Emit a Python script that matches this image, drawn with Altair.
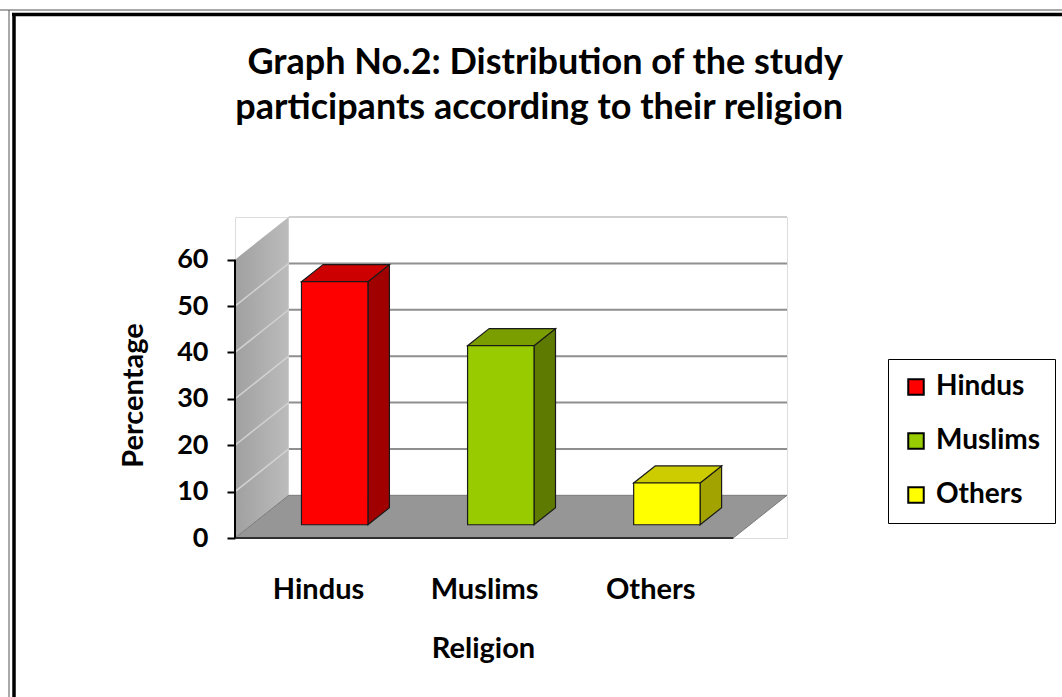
import altair as alt
import pandas as pd

# ---- data -------------------------------------------------------------
categories = ["Hindus", "Muslims", "Others"]
percentages = [52.4, 38.6, 9.0]
y_ticks = [0, 10, 20, 30, 40, 50, 60]

# ---- styling ----------------------------------------------------------
front_palette = ["#FF0000", "#99CC00", "#FFFF00"]
top_palette = ["#CC0000", "#7A9E00", "#CCCC00"]
side_palette = ["#A00000", "#5E7A00", "#A3A300"]
FONT = "Lato"
EDGE = "#1a1a1a"

# oblique depth of the floor (slot units along x, percentage units along y)
DX, DY = 0.3235, 9.2
F0, F1 = 0.31, 0.71      # front / back depth of each column
HALF = 0.2               # half width of a column, in slot units
YMAX = 60
n = len(categories)

xscale = alt.Scale(domain=[0, n + DX], nice=False, zero=False)
yscale = alt.Scale(domain=[0, YMAX + DY], nice=False, zero=False)

label_expr = "[" + ",".join(f"'{c}'" for c in categories) + "][floor(datum.value)]"
xaxis = alt.Axis(
    values=[i + 0.5 for i in range(n)], labelExpr=label_expr,
    domain=False, ticks=False, grid=False,
    labelPadding=37, labelFontSize=29, labelFont=FONT, labelFontWeight="bold",
    labelColor="black",
    title="Religion", titleFont=FONT, titleFontSize=29, titleFontWeight="bold",
    titleColor="black", titleX=248, titleY=110, titleAlign="center",
    titleBaseline="middle",
)
yaxis = alt.Axis(
    values=y_ticks, domain=False, grid=False,
    tickSize=8, tickWidth=2, tickColor="black",
    labelPadding=19, labelFontSize=27, labelFont=FONT, labelFontWeight="bold",
    labelColor="black",
    title="Percentage", titleFont=FONT, titleFontSize=29, titleFontWeight="bold",
    titleColor="black", titleAngle=270, titleX=-102, titleY=178,
    titleAlign="center", titleBaseline="middle",
)


def X(field):
    return alt.X(field, type="quantitative", scale=xscale, axis=xaxis)


def Y(field):
    return alt.Y(field, type="quantitative", scale=yscale, axis=yaxis)


# ---- geometry tables derived from the values -------------------------
front_rows, top_rows, side_rows = [], [], []
for i, (cat, v) in enumerate(zip(categories, percentages)):
    c = i + 0.5
    front_rows.append(dict(religion=cat,
                           x=c - HALF + F0 * DX, x2=c + HALF + F0 * DX,
                           y=F0 * DY, y2=F0 * DY + v))
    for f in (F0, F1):
        top_rows.append(dict(religion=cat, fill=top_palette[i], y=f * DY + v,
                             x=c - HALF + f * DX, x2=c + HALF + f * DX))
        side_rows.append(dict(religion=cat, fill=side_palette[i], x=c + HALF + f * DX,
                              y=f * DY, y2=f * DY + v))
front_df = pd.DataFrame(front_rows)
top_df = pd.DataFrame(top_rows)
side_df = pd.DataFrame(side_rows)

floor_df = pd.DataFrame([dict(y=0, x=0, x2=n), dict(y=DY, x=DX, x2=n + DX)])
wall_df = pd.DataFrame([dict(x=0, y=0, y2=YMAX), dict(x=DX, y=DY, y2=YMAX + DY)])
back_df = pd.DataFrame([dict(x=DX, x2=n + DX, y=DY, y2=YMAX + DY)])
grid_df = pd.DataFrame([dict(level=t, x=DX, x2=n + DX, y=t + DY) for t in y_ticks[1:]])
side_grid_df = pd.DataFrame(
    [dict(level=t, x=0, y=t) for t in y_ticks[1:-1]]
    + [dict(level=t, x=DX, y=t + DY) for t in y_ticks[1:-1]]
)
axis_line_df = pd.DataFrame([dict(x=0, y=0, y2=YMAX)])
front_edge_df = pd.DataFrame([dict(x=0, x2=n, y=0)])

# ---- walls and floor ---------------------------------------------------
back_wall = alt.Chart(back_df).mark_rect(fill="white").encode(
    x=X("x"), x2="x2", y=Y("y"), y2="y2")

back_grid = alt.Chart(grid_df).mark_rule(strokeWidth=2).encode(
    x=X("x"), x2="x2", y=Y("y"),
    color=alt.condition(alt.datum.level == YMAX, alt.value("#d0d0d0"), alt.value("#8f8f8f")),
)

side_wall = alt.Chart(wall_df).mark_area(
    orient="vertical",
    fill=alt.Gradient(gradient="linear", x1=0, x2=1, y1=0, y2=0,
                      stops=[alt.GradientStop(color="#a0a0a0", offset=0),
                             alt.GradientStop(color="#bcbcbc", offset=1)]),
).encode(x=X("x"), y=Y("y"), y2="y2")

side_grid = alt.Chart(side_grid_df).mark_line(color="#d2d2d2", strokeWidth=1.5).encode(
    x=X("x"), y=Y("y"), detail="level:N")

floor = alt.Chart(floor_df).mark_area(
    orient="horizontal", fill="#969696", stroke="#7a7a7a", strokeWidth=1
).encode(y=Y("y"), x=X("x"), x2="x2")

front_edge = alt.Chart(front_edge_df).mark_rule(color="#303030", strokeWidth=2).encode(
    x=X("x"), x2="x2", y=Y("y"))

axis_line = alt.Chart(axis_line_df).mark_rule(color="black", strokeWidth=2).encode(
    x=X("x"), y=Y("y"), y2="y2")

# ---- columns -------------------------------------------------------------
side_face = alt.Chart(side_df).mark_area(
    orient="vertical", stroke=EDGE, strokeWidth=1.2
).encode(x=X("x"), y=Y("y"), y2="y2",
         fill=alt.Fill("fill:N", scale=None), detail="religion:N")

top_face = alt.Chart(top_df).mark_area(
    orient="horizontal", stroke=EDGE, strokeWidth=1.2
).encode(y=Y("y"), x=X("x"), x2="x2",
         fill=alt.Fill("fill:N", scale=None), detail="religion:N")

front_face = alt.Chart(front_df).mark_rect(stroke=EDGE, strokeWidth=1.2).encode(
    x=X("x"), x2="x2", y=Y("y"), y2="y2",
    color=alt.Color(
        "religion:N",
        scale=alt.Scale(domain=categories, range=front_palette),
        legend=alt.Legend(
            title=None, orient="none", legendX=653, legendY=142,
            symbolType="square", symbolSize=240, symbolStrokeColor="black",
            symbolStrokeWidth=2, labelFont=FONT, labelFontSize=28,
            labelFontWeight="bold", labelColor="black", labelOffset=6,
            rowPadding=26, padding=14, strokeColor="black",
            fillColor="white",
        ),
    ),
)

# ---- page frame (double rule at top and left) ----------------------------
frame = alt.layer(
    alt.Chart().mark_rule(color="#555555", strokeWidth=1).encode(
        x=alt.value(-235), x2=alt.value(827), y=alt.value(-207)),
    alt.Chart().mark_rule(color="black", strokeWidth=3.5).encode(
        x=alt.value(-223), x2=alt.value(827), y=alt.value(-202.5)),
    alt.Chart().mark_rule(color="#555555", strokeWidth=1).encode(
        x=alt.value(-226), y=alt.value(-207), y2=alt.value(480)),
    alt.Chart().mark_rule(color="black", strokeWidth=3.5).encode(
        x=alt.value(-221), y=alt.value(-204), y2=alt.value(480)),
)

chart = alt.layer(
    back_wall, back_grid, side_wall, side_grid, floor, front_edge, axis_line,
    side_face, top_face, front_face, frame,
).properties(
    width=552, height=321,
    padding={"left": 235, "top": 217, "right": 275, "bottom": 159},
    autosize=alt.AutoSizeParams(type="none"),
    title=alt.TitleParams(
        text=["Graph No.2: Distribution of the study",
              "participants according to their religion"],
        anchor="start", align="right", frame="group", dx=608,
        font=FONT, fontSize=36, fontWeight="bold", color="black",
        lineHeight=45, offset=-117,
    ),
).configure_view(stroke=None).configure(background="white")

chart.save("out.html", embed_options={"renderer": "svg", "actions": False})
